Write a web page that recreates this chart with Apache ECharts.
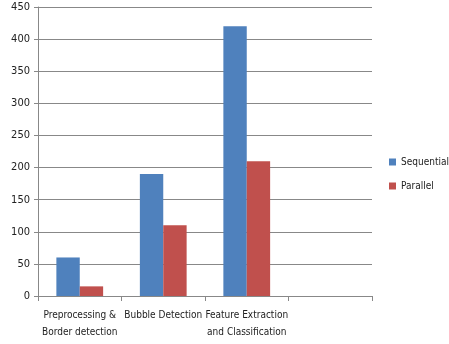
<!DOCTYPE html>
<html>
<head>
<meta charset="utf-8">
<script src="https://cdn.jsdelivr.net/npm/echarts@6/dist/echarts.min.js"></script>
<style>
  html, body { margin: 0; padding: 0; background: #fff; }
  #chart { width: 449px; height: 344px; }
</style>
</head>
<body>
<div id="chart"></div>
<script>
// categories and values
var categories = ['Preprocessing &\nBorder detection', 'Bubble Detection', 'Feature Extraction\nand Classification', ''];
var sequential = [60, 190, 420, null];
var parallel = [15, 110, 210, null];

var font = '"DejaVu Sans Condensed", "Liberation Sans Narrow", sans-serif';

var option = {
    animation: false,
    textStyle: { fontFamily: font },
    legend: {
        orient: 'vertical',
        left: 384,
        top: 152,
        itemWidth: 7,
        itemHeight: 7,
        itemGap: 14,
        icon: 'rect',
        textStyle: { fontFamily: font, fontSize: 10, color: '#222' },
        data: ['Sequential', 'Parallel']
    },
    grid: { left: 38, right: 77, top: 7, bottom: 48 },
    xAxis: {
        type: 'category',
        data: categories,
        axisLine: { lineStyle: { color: '#888' } },
        axisTick: { show: true, alignWithLabel: false, length: 5, lineStyle: { color: '#888' } },
        axisLabel: { interval: 0, fontFamily: font, fontSize: 10, color: '#222', lineHeight: 17, margin: 11, align: 'center' }
    },
    yAxis: {
        type: 'value',
        min: 0,
        max: 450,
        interval: 50,
        axisLine: { show: true, lineStyle: { color: '#888' } },
        axisTick: { show: true, length: 4, lineStyle: { color: '#888' } },
        axisLabel: { fontFamily: font, fontSize: 11, color: '#222', margin: 8 },
        splitLine: { lineStyle: { color: '#888', width: 1 } }
    },
    series: [{
        name: 'Sequential',
        type: 'bar',
        data: sequential,
        barGap: '0%',
        barCategoryGap: '44%',
        itemStyle: { color: '#4F81BD' }
    }, {
        name: 'Parallel',
        type: 'bar',
        data: parallel,
        itemStyle: { color: '#C0504D' }
    }]
};

var myChart = echarts.init(document.getElementById('chart'));
myChart.setOption(option);
</script>
</body>
</html>
